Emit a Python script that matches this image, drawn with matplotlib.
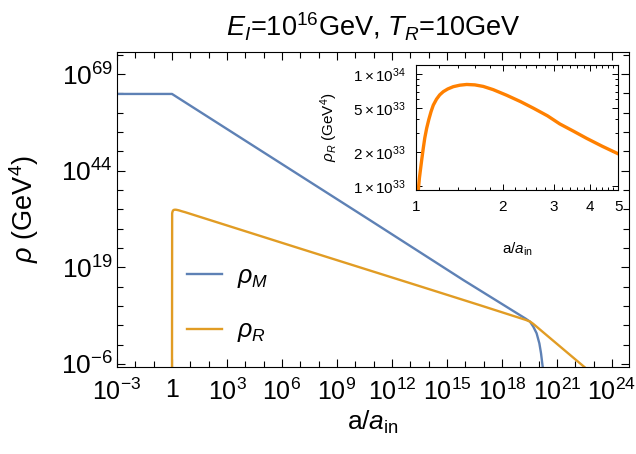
import numpy as np
import matplotlib
matplotlib.use("Agg")
import matplotlib.pyplot as plt
from matplotlib.lines import Line2D

plt.rcParams['font.family'] = ['Liberation Sans', 'DejaVu Sans']
plt.rcParams['mathtext.fontset'] = 'custom'
plt.rcParams['mathtext.rm'] = 'Liberation Sans'
plt.rcParams['mathtext.it'] = 'Liberation Sans:italic'
plt.rcParams['mathtext.bf'] = 'Liberation Sans:bold'

# main panel: log10 of a/a_in and log10 of rho (GeV^4)
rho_m_loga = [-3, 0, 10.8, 15.89, 19.3, 19.53, 19.71, 19.89, 20.04, 20.13, 20.22, 20.28]
rho_m_logrho = [63.85, 63.85, 31.2, 15.72, 5.7, 4.94, 3.65, 1.94, -0.67, -3.2, -6.7, -9.0]

rho_r_loga = [0.0, 0.0086, 0.017, 0.026, 0.038, 0.061, 0.095, 0.13, 0.176,
              0.233, 0.314, 0.407, 0.497, 0.59, 0.699,
              6.98, 13.53, 16.8, 19.3, 19.53, 19.7, 19.89, 20.2, 22.7]
rho_r_logrho = [-10.0, 32.96, 33.16, 33.34, 33.52, 33.72, 33.85, 33.89, 33.91,
                33.89, 33.81, 33.70, 33.56, 33.43, 33.29,
                23.87, 14.1, 9.2, 5.4, 4.97, 4.4, 3.65, 2.4, -7.6]

# inset: rho_R (units of 1e33 GeV^4) near the start
inset_a = [1.021, 1.03, 1.04, 1.05, 1.062, 1.075, 1.091, 1.11, 1.13, 1.15,
           1.18, 1.21, 1.245, 1.29, 1.348, 1.42, 1.50, 1.60, 1.71, 1.85,
           2.06, 2.3, 2.55, 2.85, 3.14, 3.5, 3.89, 4.4, 5.0]
inset_rho = [0.92, 1.18, 1.44, 1.75, 2.18, 2.7, 3.29, 3.95, 4.65, 5.3,
             6.0, 6.55, 7.0, 7.4, 7.76, 8.0, 8.12, 8.05, 7.8, 7.3,
             6.5, 5.7, 4.97, 4.25, 3.6, 3.1, 2.67, 2.27, 1.94]

x_tick_exp = [-3, 0, 3, 6, 9, 12, 15, 18, 21, 24]
x_tick_labels = ['$10^{-3}$', '1', '$10^{3}$', '$10^{6}$', '$10^{9}$', '$10^{12}$',
                 '$10^{15}$', '$10^{18}$', '$10^{21}$', '$10^{24}$']
y_tick_exp = [-6, 19, 44, 69]
y_tick_labels = ['$10^{-6}$', '$10^{19}$', '$10^{44}$', '$10^{69}$']

inset_xticks = [1, 2, 3, 4, 5]
inset_yticks = [1e33, 2e33, 5e33, 1e34]
inset_ylabels = [r'$1\times10^{33}$', r'$2\times10^{33}$', r'$5\times10^{33}$', r'$1\times10^{34}$']

blue = '#5E81B5'
orange = '#E19C24'
bright = '#FF8000'

W, H = 636, 454
fig = plt.figure(figsize=(W / 100, H / 100), dpi=100)

ax = fig.add_axes([117 / W, 1 - 367 / H, 512 / W, 315 / H])
ax.plot(10.0 ** np.array(rho_m_loga), 10.0 ** np.array(rho_m_logrho), color=blue, lw=1.7)
ax.plot(10.0 ** np.array(rho_r_loga), 10.0 ** np.array(rho_r_logrho), color=orange, lw=1.7)
ax.set_xscale('log')
ax.set_yscale('log')
ax.set_xlim(1e-3, 10 ** 24.93)
ax.set_ylim(10 ** -6.78, 10 ** 74.7)

ax.set_xticks([10.0 ** e for e in x_tick_exp])
ax.set_xticklabels(x_tick_labels)
ax.set_xticks([10.0 ** e for e in range(-3, 25) if e not in x_tick_exp], minor=True)
ax.set_yticks([10.0 ** e for e in y_tick_exp])
ax.set_yticklabels(y_tick_labels)
ax.set_yticks([10.0 ** e for e in range(-6, 75, 5) if e not in y_tick_exp], minor=True)
ax.tick_params(which='both', direction='in', top=True, right=True, width=0.8)
ax.tick_params(which='major', length=6)
ax.tick_params(which='minor', length=4, labelleft=False, labelbottom=False)
ax.tick_params(axis='x', pad=8, labelsize=18)
ax.tick_params(axis='y', pad=3, labelsize=19)

ax.set_title(r'$E_I$=10$^{16}$GeV, $T_R$=10GeV', fontsize=19.5, pad=11)
ax.set_xlabel(r'a/$a_{\mathrm{in}}$', fontsize=19, labelpad=3)
ax.set_ylabel(r'$\rho$ (GeV$^4$)', fontsize=19.5, labelpad=14)

handles = [Line2D([], [], color=blue, lw=1.7), Line2D([], [], color=orange, lw=1.7)]
ax.legend(handles, [r'$\rho_M$', r'$\rho_R$'], loc='center left',
          bbox_to_anchor=(0.137, 0.2), frameon=False, fontsize=18,
          handlelength=1.4, handletextpad=0.6, labelspacing=1.15,
          borderpad=0, borderaxespad=0)

# inset
axi = fig.add_axes([415.7 / W, 1 - 190 / H, 202.6 / W, 125 / H])
axi.plot(inset_a, np.array(inset_rho) * 1e33, color=bright, lw=2.4)
axi.set_xscale('log')
axi.set_yscale('log')
axi.set_xlim(1, 5)
axi.set_ylim(10 ** 32.964, 10 ** 34.084)
axi.set_xticks(inset_xticks)
axi.set_xticklabels([str(v) for v in inset_xticks])
axi.set_xticks([v / 10 for v in range(12, 50, 2) if v % 10 != 0], minor=True)
axi.set_yticks(inset_yticks)
axi.set_yticklabels(inset_ylabels)
axi.set_yticks([3e33, 4e33, 6e33, 7e33, 8e33, 9e33], minor=True)
axi.tick_params(which='both', direction='in', top=True, right=True, labelsize=11, width=0.7)
axi.tick_params(which='major', length=4)
axi.tick_params(which='minor', length=2.5, labelleft=False, labelbottom=False)
axi.tick_params(axis='x', pad=7)
axi.tick_params(axis='y', pad=7)
axi.set_xlabel(r'a/$a_{\mathrm{in}}$', fontsize=11, labelpad=19)
axi.set_ylabel(r'$\rho_R$ (GeV$^4$)', fontsize=11, labelpad=9)

fig.savefig('out.png', dpi=100)
